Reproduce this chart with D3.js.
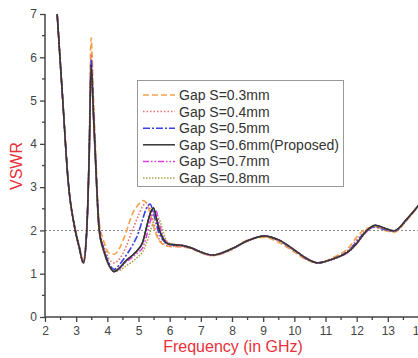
<!DOCTYPE html>
<html>
<head>
<meta charset="utf-8">
<script src="https://cdn.jsdelivr.net/npm/d3@7"></script>
<style>
  html, body { margin: 0; padding: 0; background: #fff; }
  svg { display: block; font-family: "Liberation Sans", Arial, sans-serif; }
</style>
</head>
<body>
<svg id="chart" width="418" height="358"></svg>
<script>
// Frequency sample points (GHz) shared by every series
const freq = [2.39, 2.57, 2.74, 2.97, 3.1, 3.23, 3.34, 3.42, 3.48, 3.55, 3.61, 3.74, 3.9, 4.05, 4.22, 4.4, 4.6, 4.8, 5.0, 5.13, 5.25, 5.37, 5.48, 5.57, 5.65, 5.76, 5.87, 6.0, 6.35, 6.68, 7.0, 7.37, 8.0, 8.5, 9.03, 9.5, 10.0, 10.4, 10.76, 11.2, 11.8, 12.0, 12.33, 12.6, 12.9, 13.2, 13.63, 14.0];

// VSWR for each gap width
const gap03 = [7.0, 5.0, 3.2, 2.05, 1.65, 1.3, 2.1, 4.0, 6.45, 5.2, 4.1, 2.2, 1.72, 1.48, 1.45, 1.6, 1.95, 2.38, 2.6, 2.69, 2.64, 2.4, 2.1, 1.9, 1.78, 1.69, 1.65, 1.63, 1.62, 1.58, 1.48, 1.42, 1.56, 1.78, 1.84, 1.72, 1.5, 1.32, 1.25, 1.36, 1.65, 1.85, 2.05, 2.08, 2.0, 1.96, 2.25, 2.58];
const gap04 = [7.0, 5.0, 3.18, 2.02, 1.62, 1.28, 2.05, 3.9, 6.1, 4.95, 3.95, 2.1, 1.62, 1.35, 1.25, 1.35, 1.62, 2.0, 2.35, 2.55, 2.64, 2.5, 2.2, 1.98, 1.82, 1.72, 1.67, 1.64, 1.63, 1.59, 1.49, 1.42, 1.57, 1.77, 1.86, 1.76, 1.53, 1.33, 1.25, 1.34, 1.6, 1.78, 2.02, 2.1, 2.03, 1.98, 2.27, 2.59];
const gap05 = [7.0, 5.0, 3.17, 2.01, 1.61, 1.26, 2.02, 3.85, 5.95, 4.85, 3.85, 2.05, 1.55, 1.25, 1.1, 1.22, 1.42, 1.65, 1.95, 2.25, 2.5, 2.61, 2.4, 2.15, 1.95, 1.8, 1.72, 1.67, 1.65, 1.6, 1.5, 1.43, 1.57, 1.76, 1.87, 1.77, 1.54, 1.34, 1.25, 1.33, 1.57, 1.74, 2.0, 2.08, 2.02, 1.98, 2.27, 2.59];
const gap06 = [7.0, 5.0, 3.16, 2.0, 1.6, 1.25, 2.0, 3.8, 5.82, 4.75, 3.8, 2.0, 1.5, 1.2, 1.05, 1.14, 1.3, 1.42, 1.57, 1.72, 2.05, 2.38, 2.52, 2.3, 2.06, 1.85, 1.73, 1.68, 1.66, 1.6, 1.5, 1.43, 1.58, 1.76, 1.87, 1.78, 1.55, 1.35, 1.25, 1.33, 1.55, 1.7, 2.0, 2.12, 2.05, 1.99, 2.28, 2.59];
const gap07 = [7.0, 5.0, 3.15, 2.0, 1.59, 1.24, 1.98, 3.75, 5.78, 4.7, 3.75, 1.98, 1.49, 1.19, 1.04, 1.12, 1.27, 1.38, 1.5, 1.6, 1.85, 2.2, 2.42, 2.45, 2.2, 1.92, 1.76, 1.68, 1.66, 1.6, 1.5, 1.43, 1.58, 1.76, 1.87, 1.78, 1.55, 1.35, 1.25, 1.33, 1.54, 1.69, 1.98, 2.1, 2.04, 1.99, 2.28, 2.59];
const gap08 = [7.0, 5.0, 3.15, 1.99, 1.58, 1.24, 1.97, 3.7, 5.72, 4.65, 3.7, 1.96, 1.48, 1.19, 1.06, 1.08, 1.18, 1.28, 1.4, 1.5, 1.7, 1.95, 2.2, 2.3, 2.28, 2.05, 1.8, 1.7, 1.66, 1.6, 1.5, 1.43, 1.58, 1.76, 1.86, 1.77, 1.55, 1.35, 1.25, 1.33, 1.55, 1.7, 1.99, 2.1, 2.04, 1.99, 2.28, 2.59];

const seriesNames = ["Gap S=0.3mm", "Gap S=0.4mm", "Gap S=0.5mm", "Gap S=0.6mm(Proposed)", "Gap S=0.7mm", "Gap S=0.8mm"];
const seriesValues = [gap03, gap04, gap05, gap06, gap07, gap08];

const xTicks = [2, 3, 4, 5, 6, 7, 8, 9, 10, 11, 12, 13, 14];
const yTicks = [0, 1, 2, 3, 4, 5, 6, 7];
const threshold = 2;

// Line styling per series
const styles = [
  { color: "#f4a24a", dash: "6,3" },
  { color: "#e8706a", dash: "1.5,2" },
  { color: "#3b3fe0", dash: "7,2,2,2" },
  { color: "#333333", dash: null },
  { color: "#e03ce0", dash: "6,2,1.5,2,1.5,2" },
  { color: "#a8a84a", dash: "1.5,1.5" }
];

const svg = d3.select("#chart");
const x = d3.scaleLinear().domain([2, 14]).range([45, 419]);
const y = d3.scaleLinear().domain([0, 7]).range([317, 14]);

const axisColor = "#444";
const tickText = "#444";

// Threshold line at VSWR = 2
svg.append("line")
  .attr("x1", x(2)).attr("x2", x(14))
  .attr("y1", y(threshold)).attr("y2", y(threshold))
  .attr("stroke", "#8a8a8a").attr("stroke-width", 1.1)
  .attr("stroke-dasharray", "2,2");

// Curves
const line = d3.line()
  .x(d => x(d[0]))
  .y(d => y(d[1]))
  .curve(d3.curveMonotoneX);

seriesValues.forEach((vals, i) => {
  const pts = freq.map((f, j) => [f, vals[j]]);
  svg.append("path")
    .datum(pts)
    .attr("d", line)
    .attr("fill", "none")
    .attr("stroke", styles[i].color)
    .attr("stroke-width", 1.6)
    .attr("stroke-dasharray", styles[i].dash);
});

// Redraw the proposed design on top
{
  const pts = freq.map((f, j) => [f, gap06[j]]);
  svg.append("path").datum(pts).attr("d", line)
    .attr("fill", "none").attr("stroke", "#333").attr("stroke-width", 1.4);
}

// X axis
const xAxis = d3.axisBottom(x).tickValues(xTicks).tickSize(5).tickPadding(4).tickFormat(d3.format("d"));
const gx = svg.append("g").attr("transform", `translate(0,${y(0)})`).call(xAxis);
const xMinor = d3.range(2.5, 14, 1);
gx.selectAll(".minor").data(xMinor).enter().append("line")
  .attr("class", "minor")
  .attr("x1", d => x(d)).attr("x2", d => x(d))
  .attr("y1", 0).attr("y2", 3);

// Y axis
const yAxis = d3.axisLeft(y).tickValues(yTicks).tickSize(5).tickPadding(3).tickFormat(d3.format("d"));
const gy = svg.append("g").attr("transform", `translate(${x(2)},0)`).call(yAxis);
const yMinor = d3.range(0.5, 7, 1);
gy.selectAll(".minor").data(yMinor).enter().append("line")
  .attr("class", "minor")
  .attr("y1", d => y(d)).attr("y2", d => y(d))
  .attr("x1", 0).attr("x2", -3);

[gx, gy].forEach(g => {
  g.select(".domain").attr("stroke", axisColor).attr("stroke-width", 1.5);
  g.selectAll("line").attr("stroke", axisColor).attr("stroke-width", 1.3);
  g.selectAll("text").attr("fill", tickText).style("font-size", "12px")
    .style("font-family", "'Liberation Sans', Arial, sans-serif");
});
gy.select(".domain").attr("d", `M0,${y(0)}V${y(7)}`);
gx.select(".domain").attr("d", `M${x(2)},0H${x(14)}`);

// Axis titles
svg.append("text")
  .attr("x", 233).attr("y", 352)
  .attr("text-anchor", "middle")
  .attr("fill", "#e8303a")
  .style("font-size", "16px")
  .text("Frequency (in GHz)");

svg.append("text")
  .attr("transform", "translate(22,166) rotate(-90)")
  .attr("text-anchor", "middle")
  .attr("fill", "#e8303a")
  .style("font-size", "16px")
  .text("VSWR");

// Legend
const legend = svg.append("g");
legend.append("rect")
  .attr("x", 137.5).attr("y", 80.5)
  .attr("width", 206).attr("height", 106)
  .attr("fill", "#fff").attr("stroke", "#999").attr("stroke-width", 1);

seriesNames.forEach((name, i) => {
  const cy = 95 + i * 16.6;
  legend.append("line")
    .attr("x1", 143).attr("x2", 175)
    .attr("y1", cy).attr("y2", cy)
    .attr("stroke", styles[i].color)
    .attr("stroke-width", 1.5)
    .attr("stroke-dasharray", styles[i].dash);
  legend.append("text")
    .attr("x", 179).attr("y", cy + 5)
    .attr("fill", "#333")
    .style("font-size", "14px")
    .text(name);
});
</script>
</body>
</html>
